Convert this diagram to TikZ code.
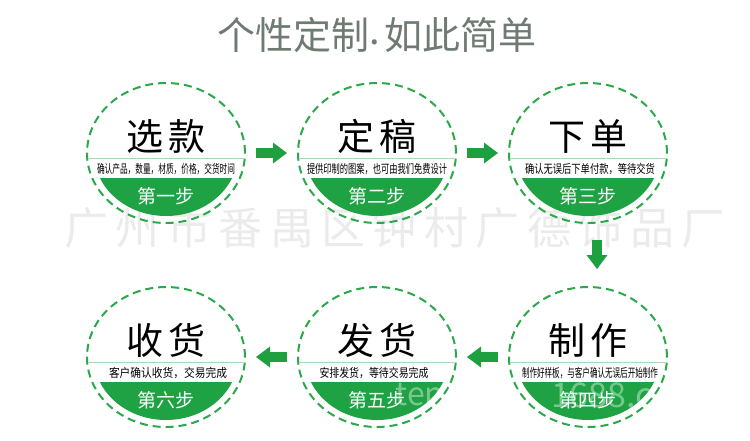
\documentclass[tikz,border=0pt]{standalone}
\usepackage{fontspec}
\usepackage{graphicx}
\setmainfont{Noto Sans CJK SC}
\newfontfamily\markfont[LetterSpace=17]{Noto Sans CJK SC}
\usetikzlibrary{shapes.geometric,arrows.meta,calc}

\begin{document}
\begin{tikzpicture}[x=1pt,y=-1pt,
  ring/.style={ellipse, draw=colRing, line width=2pt, dash pattern=on 8pt off 5pt,
    minimum width=158pt, minimum height=140pt, inner sep=0pt},
  sepline/.style={draw=colSep, line width=0.8pt},
  headword/.style={font=\fontsize{37}{37}\selectfont, text=black, inner sep=0pt},
  subline/.style={font=\fontsize{12}{12}\selectfont, text=black, inner sep=0pt},
  stepname/.style={font=\fontsize{19}{19}\selectfont, text=white, inner sep=0pt},
  ghost/.style={text=white, opacity=0.4, inner sep=0pt},
  flow/.style={draw=colArrow, line width=10pt,
    -{Triangle[length=14pt,width=21pt,line width=0pt]},
    shorten <=10pt, shorten >=10pt}]

% Colori
\definecolor{colRing}{HTML}{2BA84A}
\definecolor{colFill}{HTML}{1FA243}
\definecolor{colArrow}{HTML}{1E9F40}
\definecolor{colSep}{HTML}{A9D9B0}
\definecolor{colTitle}{HTML}{6E7A72}
\definecolor{colMark}{HTML}{EBEBEB}

% Larghezza fissa per le righe piccole
\def\fitw#1#2{\resizebox{#1}{\height}{#2}}
% Segmento verde in basso
\def\capseg#1#2{\begin{scope}\clip (#1-80,#2+25) rectangle (#1+80,#2+80);
  \fill[colFill] (#1,#2) ellipse [x radius=72, y radius=63];\end{scope}}

\useasboundingbox (0,0) rectangle (750,440);

% Titolo
\node[font=\fontsize{38}{38}\selectfont, text=colTitle] (title) at (377,35)
  {个性定制\raisebox{5pt}{.}\hspace{4pt}如此简单};

% Filigrana
\node[font=\markfont\fontsize{44}{44}\selectfont, text=colMark] (mark) at (395,228) {广州市番禺区钟村广德饰品厂};

% Passo 1
\node[ring] (xuankuan) at (166,153) {};
\capseg{166}{153}
\draw[sepline] (89,158) -- (243,158);
\node[headword] (xuankuan-h) at (166,136) {选\hspace{6pt}款};
\node[subline] (xuankuan-s) at (166,169) {\fitw{138pt}{确认产品，数量，材质，价格，交货时间}};
\node[stepname] (xuankuan-n) at (166,196) {第一步};

% Passo 2
\node[ring] (dinggao) at (377,153) {};
\capseg{377}{153}
\draw[sepline] (300,158) -- (454,158);
\node[headword] (dinggao-h) at (377,136) {定\hspace{6pt}稿};
\node[subline] (dinggao-s) at (377,169) {\fitw{140pt}{提供印制的图案，也可由我们免费设计}};
\node[stepname] (dinggao-n) at (377,196) {第二步};

% Passo 3
\node[ring] (xiadan) at (588,153) {};
\capseg{588}{153}
\draw[sepline] (511,158) -- (665,158);
\node[headword] (xiadan-h) at (588,136) {下\hspace{6pt}单};
\node[subline] (xiadan-s) at (590,169) {\fitw{130pt}{确认无误后下单付款，等待交货}};
\node[stepname] (xiadan-n) at (588,196) {第三步};

% Passo 4
\node[ring] (zhizuo) at (588,357) {};
\capseg{588}{357}
\draw[sepline] (511,362) -- (665,362);
\node[headword] (zhizuo-h) at (588,340) {制\hspace{6pt}作};
\node[subline] (zhizuo-s) at (590,373) {\fitw{136pt}{制作好样板，与客户确认无误后开始制作}};
\begin{scope}
  \clip (508,382) rectangle (668,430);
  \clip (588,357) ellipse [x radius=72, y radius=63];
  \node[ghost, font=\fontsize{34}{34}\selectfont] (zhizuo-m) at (602,395) {1688.c};
\end{scope}
\node[stepname] (zhizuo-n) at (588,400) {第四步};

% Passo 5
\node[ring] (fahuo) at (377,357) {};
\capseg{377}{357}
\draw[sepline] (300,362) -- (454,362);
\node[headword] (fahuo-h) at (377,340) {发\hspace{6pt}货};
\node[subline] (fahuo-s) at (374,373) {\fitw{109pt}{安排发货，等待交易完成}};
\begin{scope}
  \clip (297,382) rectangle (457,430);
  \clip (377,357) ellipse [x radius=72, y radius=63];
  \node[ghost, font=\fontsize{32}{32}\selectfont] (fahuo-m) at (420,395) {ten};
\end{scope}
\node[stepname] (fahuo-n) at (377,400) {第五步};

% Passo 6
\node[ring] (shouhuo) at (166,357) {};
\capseg{166}{357}
\draw[sepline] (89,362) -- (243,362);
\node[headword] (shouhuo-h) at (166,340) {收\hspace{6pt}货};
\node[subline] (shouhuo-s) at (168,373) {\fitw{118pt}{客户确认收货，交易完成}};
\node[stepname] (shouhuo-n) at (166,400) {第六步};

% Frecce
\draw[flow] (xuankuan.east) -- (dinggao.west);
\draw[flow] (dinggao.east) -- (xiadan.west);
\draw[flow, shorten <=16pt, shorten >=17pt] ($(xiadan.south)+(9,0)$) -- ($(zhizuo.north)+(9,0)$);
\draw[flow] (zhizuo.west) -- (fahuo.east);
\draw[flow] (fahuo.west) -- (shouhuo.east);

\end{tikzpicture}
\end{document}
